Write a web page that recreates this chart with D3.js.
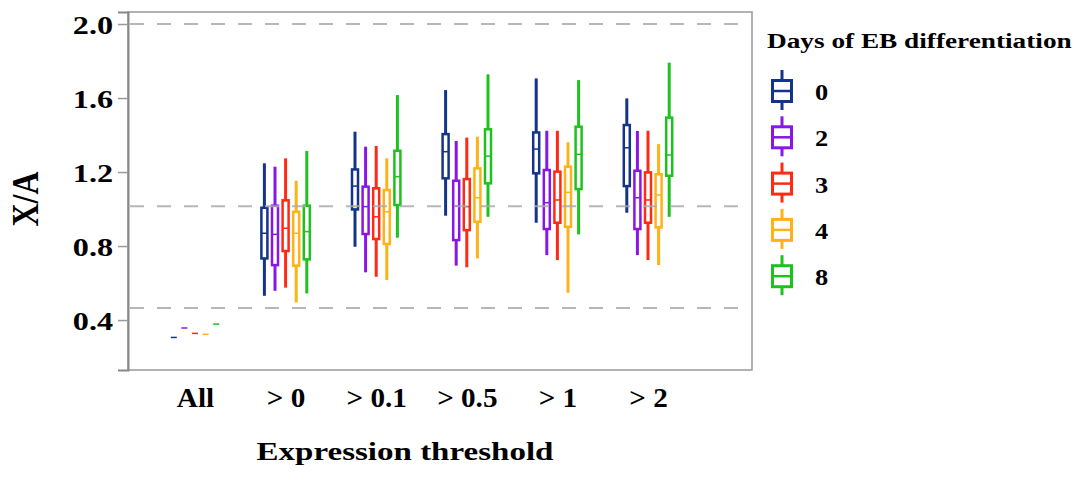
<!DOCTYPE html>
<html>
<head>
<meta charset="utf-8">
<script src="https://cdn.jsdelivr.net/npm/d3@7"></script>
<style>
  body { margin: 0; background: #fff; }
  text { font-family: "Liberation Serif", "Times New Roman", serif; font-weight: bold; fill: #000; }
</style>
</head>
<body>
<svg id="chart" width="1078" height="481"></svg>
<script>
const categories = ["All", "> 0", "> 0.1", "> 0.5", "> 1", "> 2"];
const days = ["0", "2", "3", "4", "8"];
const colors = ["#14348a", "#8a16e6", "#ff2a14", "#ffb216", "#1ec21e"];
const yTicks = [0.4, 0.8, 1.2, 1.6, 2.0];
const refLines = [2.0, 1.015, 0.465];

// five-number summaries [low, q1, median, q3, high] per category
const day0 = [[0.306, 0.306, 0.306, 0.306, 0.306], [0.531, 0.733, 0.869, 1.007, 1.247], [0.796, 0.998, 1.124, 1.214, 1.418], [0.964, 1.166, 1.310, 1.405, 1.643], [0.926, 1.193, 1.324, 1.414, 1.706], [0.980, 1.124, 1.331, 1.454, 1.598]];
const day2 = [[0.357, 0.357, 0.357, 0.357, 0.357], [0.558, 0.697, 0.863, 1.018, 1.229], [0.658, 0.865, 1.013, 1.121, 1.337], [0.694, 0.832, 1.016, 1.153, 1.368], [0.751, 0.892, 1.034, 1.211, 1.423], [0.751, 0.892, 1.061, 1.207, 1.422]];
const day3 = [[0.328, 0.328, 0.328, 0.328, 0.328], [0.575, 0.773, 0.896, 1.047, 1.274], [0.634, 0.838, 0.958, 1.112, 1.341], [0.685, 0.886, 1.013, 1.162, 1.386], [0.724, 0.926, 1.049, 1.202, 1.423], [0.724, 0.926, 1.049, 1.198, 1.423]];
const day4 = [[0.323, 0.323, 0.323, 0.323, 0.323], [0.495, 0.694, 0.869, 0.985, 1.153], [0.616, 0.811, 0.985, 1.103, 1.274], [0.733, 0.931, 1.061, 1.220, 1.391], [0.548, 0.904, 1.090, 1.229, 1.361], [0.697, 0.901, 1.076, 1.188, 1.351]];
const day8 = [[0.378, 0.378, 0.378, 0.378, 0.378], [0.544, 0.728, 0.878, 1.018, 1.314], [0.845, 1.022, 1.175, 1.315, 1.616], [0.958, 1.139, 1.286, 1.431, 1.728], [0.863, 1.108, 1.296, 1.445, 1.697], [0.958, 1.180, 1.292, 1.494, 1.791]];
const series = [day0, day2, day3, day4, day8];

const margin = { top: 12, left: 128, right: 752, bottom: 370 };

const x = d3.scalePoint().domain(categories).range([195, 648]);
const inner = d3.scaleBand().domain(days).range([-26.5, 26.5]);
const y = d3.scaleLinear().domain([0.13, 2.065]).range([margin.bottom, margin.top]);

const svg = d3.select("#chart");

// panel
svg.append("rect")
  .attr("x", margin.left).attr("y", margin.top)
  .attr("width", margin.right - margin.left)
  .attr("height", margin.bottom - margin.top)
  .attr("fill", "none").attr("stroke", "#999").attr("stroke-width", 1.5);

// y axis
const yAxis = svg.append("g")
  .attr("transform", `translate(${margin.left},0)`)
  .call(d3.axisLeft(y).tickValues(yTicks).tickFormat(d3.format(".1f")).tickSize(10));
yAxis.select(".domain").attr("stroke", "#888").attr("stroke-width", 2);
yAxis.selectAll(".tick line").attr("stroke", "#999").attr("stroke-width", 1.5);
yAxis.selectAll(".tick text")
  .attr("x", -12).attr("dy", "0.35em")
  .attr("transform", "scale(1.24,1)")
  .style("font-size", "26px").style("font-family", "Liberation Serif").style("font-weight", "bold");

// x axis labels
const xAxis = svg.append("g")
  .attr("transform", `translate(0,${margin.bottom})`)
  .call(d3.axisBottom(x).tickSize(0).tickPadding(0));
xAxis.select(".domain").remove();
xAxis.selectAll(".tick text")
  .attr("y", 37).attr("dy", 0)
  .attr("transform", "scale(1.08,1)")
  .style("font-size", "27px").style("font-family", "Liberation Serif").style("font-weight", "bold");

// boxes
series.forEach((s, i) => {
  const g = svg.append("g").attr("stroke", colors[i]);
  const cx = (j) => x(categories[j]) + inner(days[i]) + inner.bandwidth() / 2;
  g.selectAll("line.whisker")
    .data(s)
    .join("line")
    .attr("class", "whisker")
    .attr("x1", (d, j) => cx(j)).attr("x2", (d, j) => cx(j))
    .attr("y1", (d) => y(d[0])).attr("y2", (d) => y(d[4]))
    .attr("stroke-width", 3);
  g.selectAll("rect")
    .data(s)
    .join("rect")
    .attr("x", (d, j) => cx(j) - 3)
    .attr("width", 6)
    .attr("y", (d) => y(d[3]))
    .attr("height", (d) => y(d[1]) - y(d[3]))
    .attr("fill", "#fff")
    .attr("stroke-width", 2.5);
  g.selectAll("line.median")
    .data(s)
    .join("line")
    .attr("class", "median")
    .attr("x1", (d, j) => cx(j) - 3).attr("x2", (d, j) => cx(j) + 3)
    .attr("y1", (d) => y(d[2])).attr("y2", (d) => y(d[2]))
    .attr("stroke-width", 1.5);
});

// dashed reference lines
svg.append("g")
  .selectAll("line")
  .data(refLines)
  .join("line")
  .attr("x1", margin.left + 2).attr("x2", margin.right - 2)
  .attr("y1", (d) => y(d)).attr("y2", (d) => y(d))
  .attr("stroke", "#aaa").attr("stroke-opacity", 0.85)
  .attr("stroke-width", 2).attr("stroke-dasharray", "14,13");

// axis titles
svg.append("text")
  .attr("transform", "translate(405,460) scale(1.27,1)")
  .attr("text-anchor", "middle")
  .style("font-size", "26px")
  .text("Expression threshold");

svg.append("text")
  .attr("transform", "translate(38,199) rotate(-90) scale(1,1.2)")
  .attr("text-anchor", "middle")
  .style("font-size", "32px")
  .text("X/A");

// legend
const legend = svg.append("g").attr("transform", "translate(767,0)");
legend.append("text")
  .attr("transform", "translate(0,48) scale(1.24,1)")
  .style("font-size", "22px")
  .text("Days of EB differentiation");

const item = legend.selectAll("g.item")
  .data(days)
  .join("g")
  .attr("class", "item")
  .attr("transform", (d, i) => `translate(15,${91 + i * 46.3})`);
item.append("line")
  .attr("y1", -21).attr("y2", 19)
  .attr("stroke", (d, i) => colors[i]).attr("stroke-width", 3);
item.append("rect")
  .attr("x", -9.5).attr("y", -10.5).attr("width", 19).attr("height", 21)
  .attr("fill", "#fff")
  .attr("stroke", (d, i) => colors[i]).attr("stroke-width", 3);
item.append("line")
  .attr("x1", -9.5).attr("x2", 9.5)
  .attr("stroke", (d, i) => colors[i]).attr("stroke-width", 2.5);
item.append("text")
  .attr("transform", "translate(33,9) scale(1.1,1)")
  .style("font-size", "24px")
  .text((d) => d);
</script>
</body>
</html>
